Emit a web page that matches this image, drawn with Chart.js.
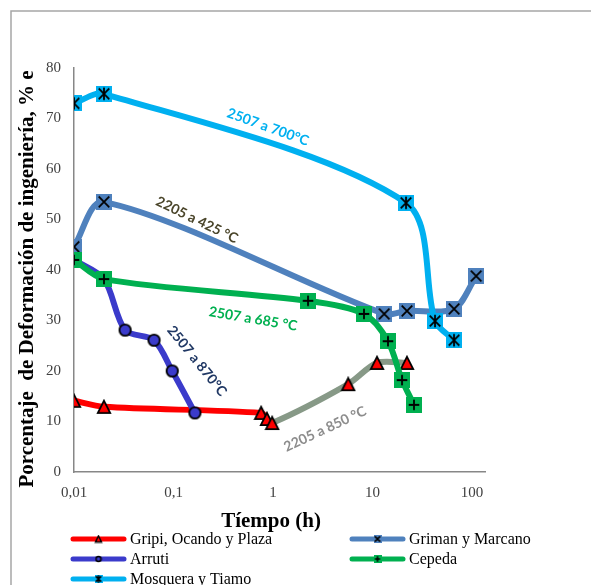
<!DOCTYPE html>
<html>
<head>
<meta charset="utf-8">
<script src="https://cdn.jsdelivr.net/npm/chart.js@4.4.1/dist/chart.umd.min.js"></script>
<style>
  body { margin: 0; background: #fff; }
  #wrap { width: 591px; height: 585px; }
</style>
</head>
<body>
<div id="wrap"><canvas id="chart" width="591" height="585"></canvas></div>
<script>
// values (x = hours, log axis; y = % deformation)
const gripiX = [0.01, 0.02, 0.76, 0.87, 0.98, 5.7, 11.1, 22.2];
const gripiY = [14.1, 12.9, 11.7, 10.5, 9.7, 17.4, 21.6, 21.6];
const grimanX = [0.01, 0.02, 13.1, 22.2, 66, 110];
const grimanY = [44.6, 53.5, 31.3, 31.9, 32.3, 38.8];
const arrutiX = [0.01, 0.02, 0.0326, 0.0637, 0.097, 0.164];
const arrutiY = [42.0, 38.2, 28.1, 26.1, 20.0, 11.7];
const cepedaX = [0.01, 0.02, 2.25, 8.2, 14.3, 19.8, 26.1];
const cepedaY = [42.0, 38.2, 33.9, 31.3, 25.9, 18.2, 13.3];
const mosqueraX = [0.01, 0.02, 21.7, 42.5, 65.9];
const mosqueraY = [73.0, 74.9, 53.3, 29.9, 26.1];

const seriesNames = ["Gripi, Ocando y Plaza", "Griman y Marcano", "Arruti", "Cepeda", "Mosquera y Tiamo"];
const xTickValues = [0.01, 0.1, 1, 10, 100];
const xTickLabels = ["0,01", "0,1", "1", "10", "100"];

// text labels on the curves: [text, x, y, angle in degrees, colour]
const curveLabels = [
  ["2507 a 700°C", 0.89, 68.3, 20, "#00B0F0"],
  ["2205 a 425 °C", 0.172, 49.9, 26, "#4A452A"],
  ["2507 a 685 °C", 0.63, 30.3, 9.5, "#00B050"],
  ["2507 a 870°C", 0.172, 22.0, 51, "#203864"],
  ["2205 a 850 °C", 3.34, 8.5, -25, "#8C8C8C"]
];

const RED = "#FF0000", GREY = "#879987", STEEL = "#4F81BD", VIOLET = "#3B3BCB", GREEN = "#00B050", CYAN = "#00B0F0";

function toPoints(xs, ys) {
  return xs.map((x, i) => ({x: x, y: ys[i]}));
}

// build marker images like the Excel ones
function makeMarker(kind, s) {
  const c = document.createElement("canvas");
  c.width = s; c.height = s;
  const g = c.getContext("2d");
  const lw = s > 10 ? 1.8 : 1.5;
  g.lineWidth = lw;
  g.strokeStyle = "#000";
  if (kind === "tri") {
    g.beginPath();
    g.moveTo(s / 2, lw);
    g.lineTo(s - lw, s - lw);
    g.lineTo(lw, s - lw);
    g.closePath();
    g.fillStyle = RED;
    g.fill();
    g.stroke();
  } else if (kind === "circle") {
    g.beginPath();
    g.arc(s / 2, s / 2, s / 2 - lw, 0, Math.PI * 2);
    g.fillStyle = VIOLET;
    g.fill();
    g.stroke();
  } else {
    const fill = kind === "cross" ? STEEL : kind === "plus" ? GREEN : CYAN;
    g.fillStyle = fill;
    g.fillRect(0, 0, s, s);
    const a = s * 0.17, b = s - a, m = s / 2;
    g.beginPath();
    if (kind === "plus") {
      g.moveTo(m, a); g.lineTo(m, b);
      g.moveTo(a, m); g.lineTo(b, m);
    } else {
      g.moveTo(a, a); g.lineTo(b, b);
      g.moveTo(b, a); g.lineTo(a, b);
      if (kind === "star") { g.moveTo(m, a - 1); g.lineTo(m, b + 1); }
    }
    g.stroke();
  }
  return c;
}

const markerKinds = ["tri", "cross", "circle", "plus", "star"];
const seriesColors = [RED, STEEL, VIOLET, GREEN, CYAN];
const bigMarkers = markerKinds.map(k => makeMarker(k, k === "circle" ? 15 : 16));
const smallMarkers = markerKinds.map(k => makeMarker(k, k === "tri" ? 9 : 8));

const decorPlugin = {
  id: "decor",
  afterDraw(chart) {
    const ctx = chart.ctx;
    const xs = chart.scales.x, ys = chart.scales.y;
    ctx.save();
    // outer frame
    ctx.strokeStyle = "#A6A6A6";
    ctx.lineWidth = 1.5;
    ctx.beginPath();
    ctx.moveTo(11, 585); ctx.lineTo(11, 11); ctx.lineTo(591, 11);
    ctx.stroke();

    // axis titles
    ctx.fillStyle = "#000";
    ctx.font = "bold 21px 'Liberation Serif'";
    ctx.textAlign = "center";
    ctx.textBaseline = "middle";
    ctx.fillText("Tíempo (h)", 271, 522);
    ctx.save();
    ctx.translate(28, 279);
    ctx.rotate(-Math.PI / 2);
    ctx.fillText("Porcentaje  de Deformación de ingeniería, % e", 0, 0);
    ctx.restore();

    // curve labels
    ctx.font = "bold 14px Lato";
    curveLabels.forEach(l => {
      ctx.save();
      ctx.translate(xs.getPixelForValue(l[1]), ys.getPixelForValue(l[2]));
      ctx.rotate(l[3] * Math.PI / 180);
      ctx.fillStyle = l[4];
      ctx.fillText(l[0], 0, 0);
      ctx.restore();
    });

    // legend, two columns
    const cols = [73, 352], rows = [539, 559, 579];
    ctx.font = "16px 'Liberation Serif'";
    ctx.textAlign = "left";
    seriesNames.forEach((name, i) => {
      const x0 = cols[i % 2], y0 = rows[Math.floor(i / 2)];
      ctx.strokeStyle = seriesColors[i];
      ctx.lineWidth = 5;
      ctx.lineCap = "round";
      ctx.beginPath();
      ctx.moveTo(x0, y0); ctx.lineTo(x0 + 51, y0);
      ctx.stroke();
      const m = smallMarkers[i];
      ctx.drawImage(m, x0 + 25.5 - m.width / 2, y0 - m.height / 2);
      ctx.fillStyle = "#000";
      ctx.fillText(name, x0 + 57, y0 + 1);
    });
    ctx.restore();
  }
};

function lineSet(i, xs, ys, order, extra) {
  return Object.assign({
    label: seriesNames[i],
    data: toPoints(xs, ys),
    borderColor: seriesColors[i],
    borderWidth: 6,
    tension: 0.3,
    pointStyle: bigMarkers[i],
    pointRadius: 8,
    order: order
  }, extra || {});
}

new Chart(document.getElementById("chart"), {
  type: "line",
  data: {
    datasets: [
      lineSet(0, gripiX, gripiY, 5, {
        segment: { borderColor: c => c.p0DataIndex >= 4 ? GREY : RED }
      }),
      lineSet(1, grimanX, grimanY, 4),
      lineSet(2, arrutiX, arrutiY, 3),
      lineSet(3, cepedaX, cepedaY, 2),
      lineSet(4, mosqueraX, mosqueraY, 1)
    ]
  },
  options: {
    responsive: false,
    animation: false,
    layout: { padding: { top: 68, right: 106, left: 0, bottom: 0 } },
    plugins: { legend: { display: false }, tooltip: { enabled: false } },
    scales: {
      x: {
        type: "logarithmic",
        min: 0.01,
        max: 135,
        grid: { display: false, drawTicks: false },
        border: { color: "#878787", width: 1.5 },
        afterBuildTicks(scale) { scale.ticks = xTickValues.map(v => ({value: v})); },
        afterFit(scale) { scale.height = 113; },
        ticks: {
          autoSkip: false,
          maxRotation: 0,
          padding: 12,
          color: "#404040",
          font: { family: "'Liberation Serif'", size: 15 },
          callback: (v, i) => xTickLabels[i]
        }
      },
      y: {
        min: 0,
        max: 80,
        grid: { display: false, drawTicks: false },
        border: { color: "#878787", width: 1.5 },
        afterFit(scale) { scale.width = 74; },
        ticks: {
          stepSize: 10,
          padding: 13,
          color: "#404040",
          font: { family: "'Liberation Serif'", size: 15 }
        }
      }
    }
  },
  plugins: [decorPlugin]
});
</script>
</body>
</html>
